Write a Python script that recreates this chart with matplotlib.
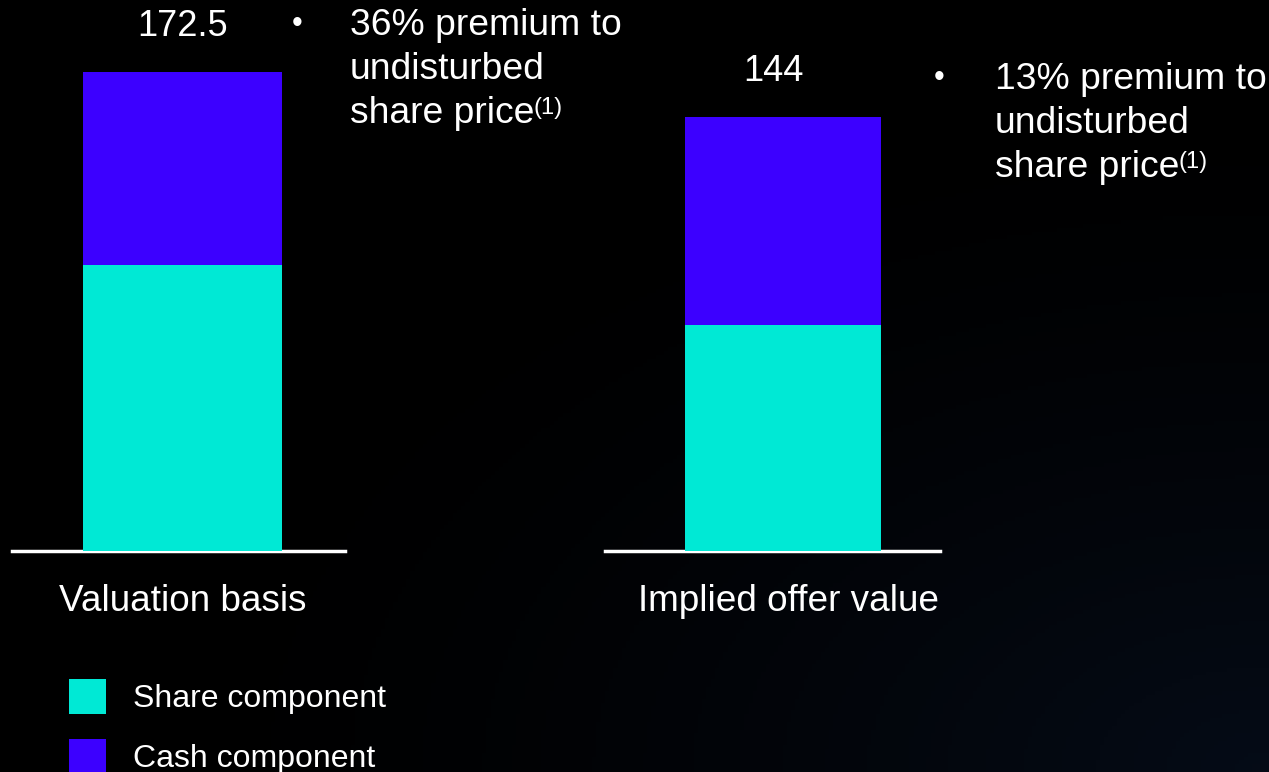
import numpy as np
import matplotlib
matplotlib.use("Agg")
import matplotlib.pyplot as plt
from matplotlib.patches import Patch

plt.rcParams['font.family'] = ['Liberation Sans', 'DejaVu Sans']

# values per bar (share part at the bottom, cash part stacked on top)
categories = ["Valuation basis", "Implied offer value"]
share_part = [103.1, 75.0]
cash_part = [69.4, 69.0]
totals = ["172.5", "144"]
total_vals = [172.5, 144.0]
notes = [["36% premium to", "undisturbed", "share price"],
         ["13% premium to", "undisturbed", "share price"]]

SHARE_C = "#00E9D5"
CASH_C = "#3C00FF"

W, H = 1269, 772
fig = plt.figure(figsize=(W / 100, H / 100), dpi=100)
fig.patch.set_facecolor("black")


def fx(x):
    return x / W


def fy(y):
    return 1 - y / H


# faint blue glow towards the bottom right corner
bg = fig.add_axes([0, 0, 1, 1])
gx, gy = np.meshgrid(np.linspace(0, 1, 300), np.linspace(0, 1, 200))
glow = np.clip(1 - np.hypot(1 - gx, 1 - gy) / 0.9, 0, 1) ** 1.5
img = np.zeros((200, 300, 3))
img[..., 0] = 0.02 * glow
img[..., 1] = 0.045 * glow
img[..., 2] = 0.09 * glow
bg.imshow(img, origin="upper", aspect="auto", extent=[0, 1, 0, 1])
bg.axis("off")

# one axes per bar: [left px, right px, top px], bar centre, bar width, label shift
boxes = [(12, 345, 72), (605, 940, 117)]
bar_x = [0.512, 0.531]
bar_w = [0.598, 0.585]
label_dx = [0, -7]

for i in range(2):
    x0, x1, top = boxes[i]
    ax = fig.add_axes([fx(x0), fy(551), fx(x1 - x0), (551 - top) / H])
    ax.set_facecolor("none")
    ax.bar(bar_x[i], share_part[i], width=bar_w[i], color=SHARE_C)
    ax.bar(bar_x[i], cash_part[i], width=bar_w[i], bottom=share_part[i], color=CASH_C)
    ax.set_xlim(0, 1)
    ax.set_ylim(0, total_vals[i])
    for s in ["top", "left", "right"]:
        ax.spines[s].set_visible(False)
    ax.spines["bottom"].set_color("white")
    ax.spines["bottom"].set_linewidth(2.5)
    ax.spines["bottom"].set_zorder(0.5)
    ax.set_yticks([])
    ax.set_xticks([bar_x[i] + (0.018 if i == 1 else 0)])
    ax.set_xticklabels([categories[i]], fontsize=26.6, color="white")
    ax.tick_params(axis="x", length=0, pad=23.5)
    ax.annotate(totals[i], xy=(bar_x[i], total_vals[i]), xytext=(label_dx[i], 33),
                textcoords="offset points", ha="center", va="center",
                fontsize=26, color="white", annotation_clip=False)

# bullet notes beside each bar
note_pos = [(292, 350, 35), (934, 995, 89)]
for i in range(2):
    bx, tx, base = note_pos[i]
    fig.text(fx(bx), fy(base - 3), "\u2022", fontsize=22, color="white", va="baseline")
    last = None
    for k, line in enumerate(notes[i]):
        last = fig.text(fx(tx), fy(base + 44 * k), line, fontsize=26.8,
                        color="white", va="baseline")
    bg.annotate("(1)", xy=(1, 0), xycoords=last, xytext=(-0.5, 12),
                textcoords="offset points", va="baseline", ha="left",
                fontsize=17, color="white")

handles = [Patch(facecolor=SHARE_C, label="Share component"),
           Patch(facecolor=CASH_C, label="Cash component")]
fig.legend(handles=handles, loc="upper left", bbox_to_anchor=(fx(69), fy(679)),
           frameon=False, fontsize=23, labelcolor="white", handlelength=1.15,
           handleheight=1.3, handletextpad=0.85, labelspacing=0.77,
           borderpad=0, borderaxespad=0)

fig.savefig("out.png", dpi=100, facecolor=fig.get_facecolor())
